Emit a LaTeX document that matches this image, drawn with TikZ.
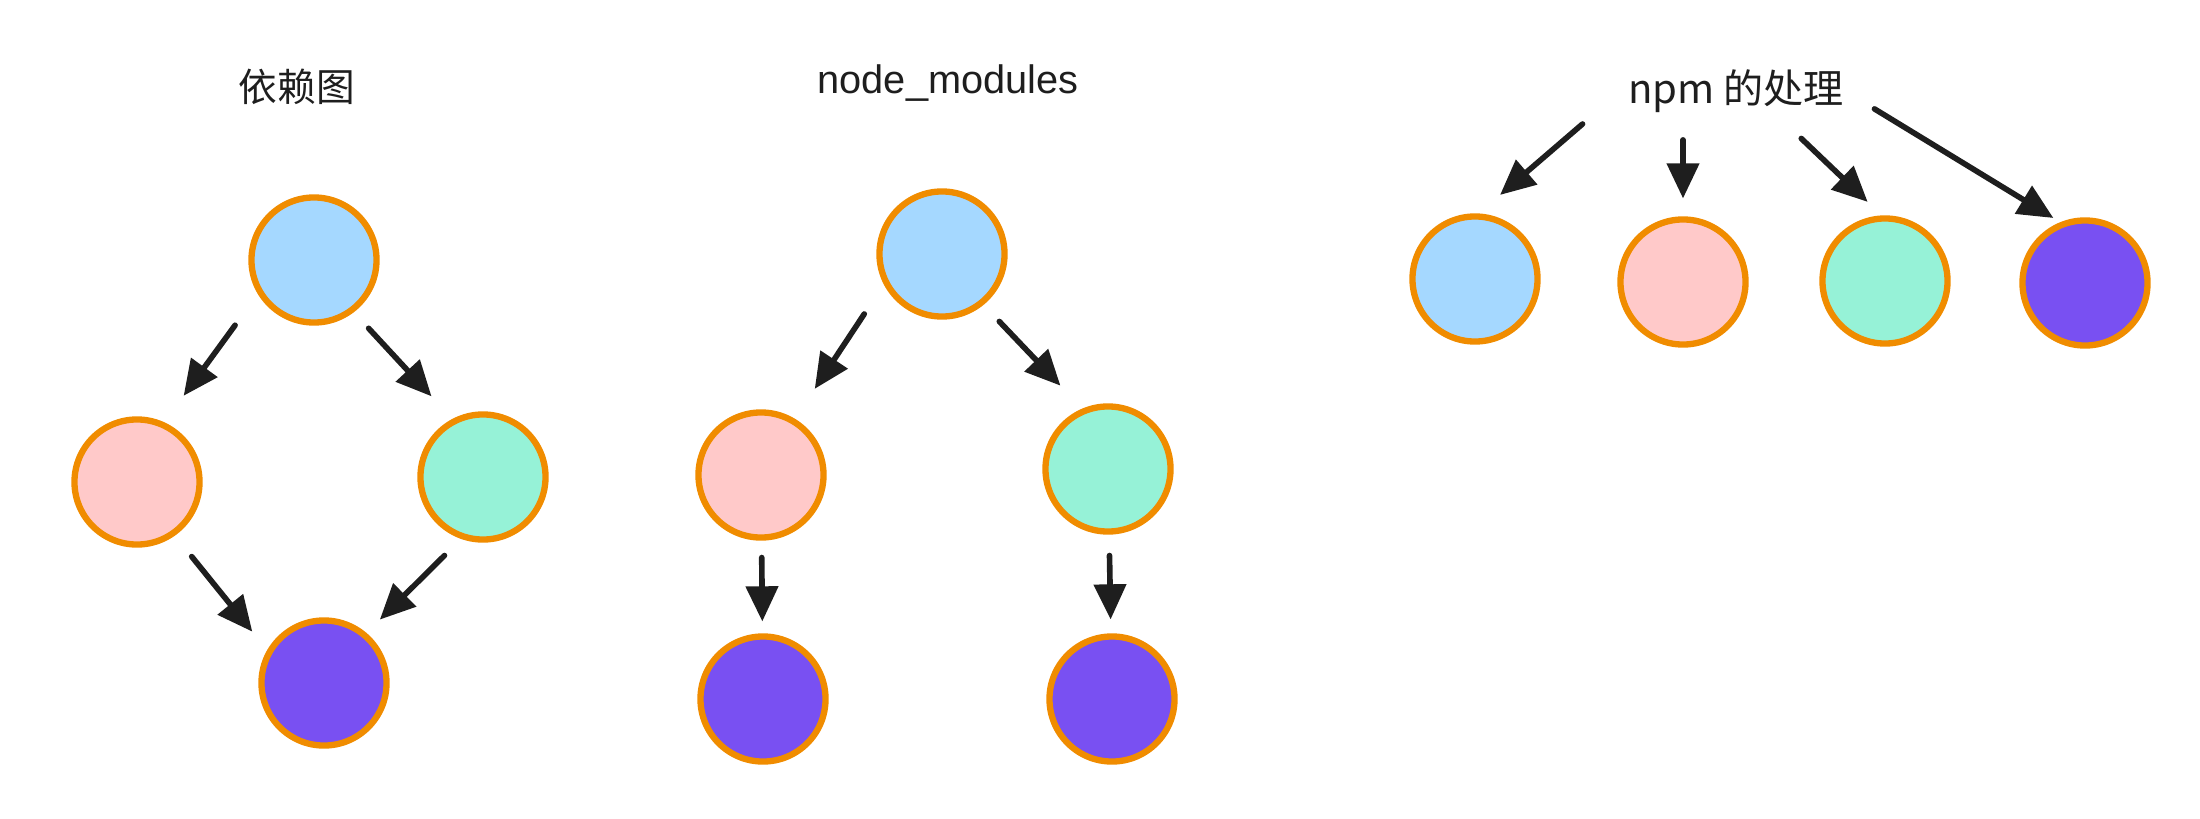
\documentclass[tikz,border=0pt]{standalone}
\usepackage{fontspec}
\setmainfont{Liberation Sans}
\newfontfamily\cjk{Noto Sans CJK SC}
\usetikzlibrary{arrows.meta}
\definecolor{ringorange}{HTML}{F08C00}
\definecolor{pkgblue}{HTML}{A5D8FF}
\definecolor{pkgpink}{HTML}{FFC9C9}
\definecolor{pkggreen}{HTML}{96F2D7}
\definecolor{pkgpurple}{HTML}{7950F2}
\definecolor{inkdark}{HTML}{1E1E1E}

\begin{document}
\begin{tikzpicture}[x=0.01cm,y=-0.01cm,
    pkg/.style={circle,draw=ringorange,line width=1.8pt,minimum size=1.25cm,inner sep=0pt,outer sep=0pt},
    dep/.style={draw=inkdark,line width=1.6pt,line cap=round,-{Triangle[length=10pt,width=9pt]}},
    title/.style={text=inkdark,inner sep=0pt,anchor=base}]
    \useasboundingbox (0,0) rectangle (2200,818);

    \node[title,font=\cjk\fontsize{11}{13}\selectfont] (t-dep) at (297,101) {依赖图};
    \node[pkg,fill=pkgblue] (dep-top) at (314,260) {};
    \node[pkg,fill=pkgpink] (dep-left) at (137,482) {};
    \node[pkg,fill=pkggreen] (dep-right) at (483,477) {};
    \node[pkg,fill=pkgpurple] (dep-bottom) at (324,683) {};
    \draw[dep,shorten <=0.42cm,shorten >=0.36cm] (dep-top.210) -- (dep-left.66);
    \draw[dep,shorten <=0.25cm,shorten >=0.34cm] (dep-top.307) -- (dep-right.117);
    \draw[dep,shorten <=0.30cm,shorten >=0.27cm] (dep-left.305) -- (dep-bottom.151);
    \draw[dep,shorten <=0.27cm,shorten >=0.22cm] (dep-right.252) -- (dep-bottom.50);

    \node[title,font=\fontsize{11.3}{13}\selectfont] (t-nm) at (948,93) {node\_modules};
    \node[pkg,fill=pkgblue] (nm-top) at (942,254) {};
    \node[pkg,fill=pkgpink] (nm-left) at (761,475) {};
    \node[pkg,fill=pkggreen] (nm-right) at (1108,469) {};
    \node[pkg,fill=pkgpurple] (nm-left-sub) at (763,699) {};
    \node[pkg,fill=pkgpurple] (nm-right-sub) at (1112,699) {};
    \draw[dep,shorten <=0.39cm,shorten >=0.39cm] (nm-top.206) -- (nm-left.59);
    \draw[dep,shorten <=0.26cm,shorten >=0.35cm] (nm-top.309) -- (nm-right.112);
    \draw[dep,shorten <=0.20cm,shorten >=0.15cm] (nm-left) -- (nm-left-sub);
    \draw[dep,shorten <=0.24cm,shorten >=0.17cm] (nm-right) -- (nm-right-sub);

    \node[title,font=\cjk\fontsize{11.4}{13}\selectfont] (t-npm) at (1736,103) {npm 的处理};
    \node[pkg,fill=pkgblue] (npm-a) at (1475,279) {};
    \node[pkg,fill=pkgpink] (npm-b) at (1683,282) {};
    \node[pkg,fill=pkggreen] (npm-c) at (1885,281) {};
    \node[pkg,fill=pkgpurple] (npm-d) at (2085,283) {};
    \draw[dep,shorten <=0.17cm,shorten >=0.33cm] ([xshift=-0.32cm]t-npm.south west) -- (npm-a.north);
    \draw[dep,shorten <=0.27cm,shorten >=0.21cm] (t-npm.south -| npm-b) -- (npm-b);
    \draw[dep,shorten <=0.37cm,shorten >=0.24cm] (t-npm.-30) -- (npm-c.north);
    \draw[dep,shorten <=0.35cm,shorten >=0.12cm] (t-npm.east) -- (npm-d.110);
\end{tikzpicture}
\end{document}
